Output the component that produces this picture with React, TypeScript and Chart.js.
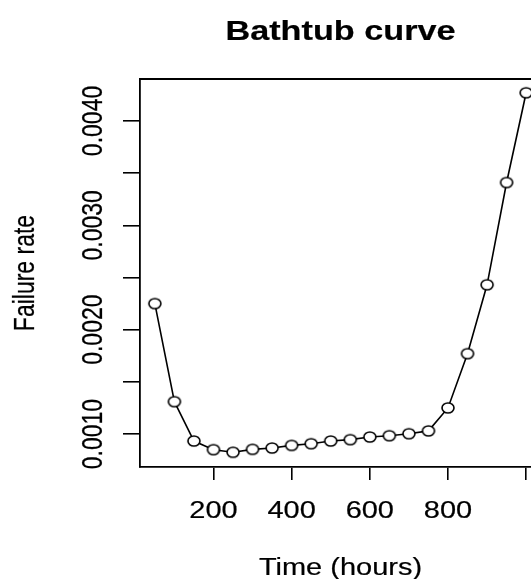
import React, { useEffect, useRef } from "react";
import { Chart, registerables } from "chart.js";

Chart.register(...registerables);

const TIME_HOURS = [50, 100, 150, 200, 250, 300, 350, 400, 450, 500, 550, 600, 650, 700, 750, 800, 850, 900, 950, 1000];
const FAILURE_RATE = [
  0.00225, 0.00131, 0.000933, 0.00085, 0.000825, 0.000853, 0.000866, 0.000891, 0.000907, 0.000933,
  0.000946, 0.000971, 0.000984, 0.001003, 0.00103, 0.00125, 0.00177, 0.00243, 0.00341, 0.00427,
];
const X_TICKS = [200, 400, 600, 800, 1000];
const X_TICK_LABELS = ["200", "400", "600", "800", ""];
const Y_TICKS = [0.001, 0.0015, 0.002, 0.0025, 0.003, 0.0035, 0.004];
const Y_TICK_LABELS = ["0.0010", "", "0.0020", "", "0.0030", "", "0.0040"];
const TITLE = "Bathtub curve";
const X_TITLE = "Time (hours)";
const Y_TITLE = "Failure rate";

const FONT = "'Liberation Sans', Arial, Helvetica, sans-serif";
const SX = 1.26;

function makeMarker(): HTMLCanvasElement {
  const c = document.createElement("canvas");
  c.width = 16;
  c.height = 14;
  const g = c.getContext("2d")!;
  g.beginPath();
  g.ellipse(8, 7, 6, 5, 0, 0, Math.PI * 2);
  g.fillStyle = "#ffffff";
  g.fill();
  g.lineWidth = 1.6;
  g.strokeStyle = "#000000";
  g.stroke();
  return c;
}

function drawText(
  ctx: CanvasRenderingContext2D,
  text: string,
  x: number,
  y: number,
  font: string,
  sx: number,
  rotate: boolean,
  stroke: number
) {
  ctx.save();
  ctx.translate(x, y);
  ctx.scale(sx, 1);
  if (rotate) ctx.rotate(-Math.PI / 2);
  ctx.font = font;
  ctx.fillStyle = "#000000";
  ctx.strokeStyle = "#000000";
  ctx.textAlign = "center";
  ctx.textBaseline = "alphabetic";
  ctx.fillText(text, 0, 0);
  if (stroke > 0) {
    ctx.lineWidth = stroke;
    ctx.strokeText(text, 0, 0);
  }
  ctx.restore();
}

const textPlugin = {
  id: "rtext",
  afterDraw(chart: any) {
    const ctx: CanvasRenderingContext2D = chart.ctx;
    const area = chart.chartArea;
    const xs = chart.scales.x;
    const ys = chart.scales.y;
    ctx.save();
    ctx.strokeStyle = "#000000";
    ctx.lineWidth = 1.8;
    ctx.beginPath();
    ctx.moveTo(area.left, area.top);
    ctx.lineTo(area.right, area.top);
    ctx.lineTo(area.right, area.bottom);
    ctx.stroke();
    ctx.restore();

    const cx = (area.left + area.right) / 2;
    drawText(ctx, TITLE, cx, 40, `bold 27.6px ${FONT}`, 1.24, false, 0.2);
    drawText(ctx, X_TITLE, cx, 574.5, `23px ${FONT}`, SX, false, 0.2);
    drawText(ctx, Y_TITLE, 34, (area.top + area.bottom) / 2, `23px ${FONT}`, SX, true, 0.2);

    X_TICKS.forEach((v, i) => {
      const lab = X_TICK_LABELS[i];
      if (!lab) return;
      drawText(ctx, lab, xs.getPixelForValue(v), 518.3, `23px ${FONT}`, SX, false, 0.2);
    });
    Y_TICKS.forEach((v, i) => {
      const lab = Y_TICK_LABELS[i];
      if (!lab) return;
      drawText(ctx, lab, 101.6, ys.getPixelForValue(v), `23px ${FONT}`, SX, true, 0.2);
    });
  },
};

export default function App() {
  const ref = useRef<HTMLCanvasElement | null>(null);
  useEffect(() => {
    if (!ref.current) return;
    const marker = makeMarker();
    const chart = new Chart(ref.current, {
      type: "line",
      data: {
        datasets: [
          {
            data: TIME_HOURS.map((t, i) => ({ x: t, y: FAILURE_RATE[i] })),
            borderColor: "#000000",
            borderWidth: 1.6,
            pointStyle: marker as any,
            pointRadius: 6,
            tension: 0,
            fill: false,
          },
        ],
      },
      options: {
        animation: false,
        responsive: false,
        events: [],
        layout: { padding: { left: 0, top: 79, right: 19, bottom: 0 } },
        plugins: { legend: { display: false }, tooltip: { enabled: false }, title: { display: false } },
        scales: {
          x: {
            type: "linear",
            min: 12,
            max: 1038,
            afterBuildTicks: (s: any) => {
              s.ticks = X_TICKS.map((v) => ({ value: v }));
            },
            afterFit: (s: any) => {
              s.height = 112;
            },
            ticks: { display: false },
            grid: { drawOnChartArea: false, drawTicks: true, tickLength: 13, color: "#000000", lineWidth: 1.6 },
            border: { display: true, color: "#000000", width: 1.8 },
          },
          y: {
            type: "linear",
            min: 0.000684,
            max: 0.004402,
            afterBuildTicks: (s: any) => {
              s.ticks = Y_TICKS.map((v) => ({ value: v }));
            },
            afterFit: (s: any) => {
              s.width = 140;
            },
            ticks: { display: false },
            grid: { drawOnChartArea: false, drawTicks: true, tickLength: 17, color: "#000000", lineWidth: 1.6 },
            border: { display: true, color: "#000000", width: 1.8 },
          },
        },
      },
      plugins: [textPlugin],
    });
    return () => chart.destroy();
  }, []);
  return (
    <div style={{ position: "fixed", left: 0, top: 0, width: 531, height: 579, overflow: "hidden", background: "#ffffff" }}>
      <canvas ref={ref} width={560} height={579} style={{ display: "block" }} />
    </div>
  );
}
